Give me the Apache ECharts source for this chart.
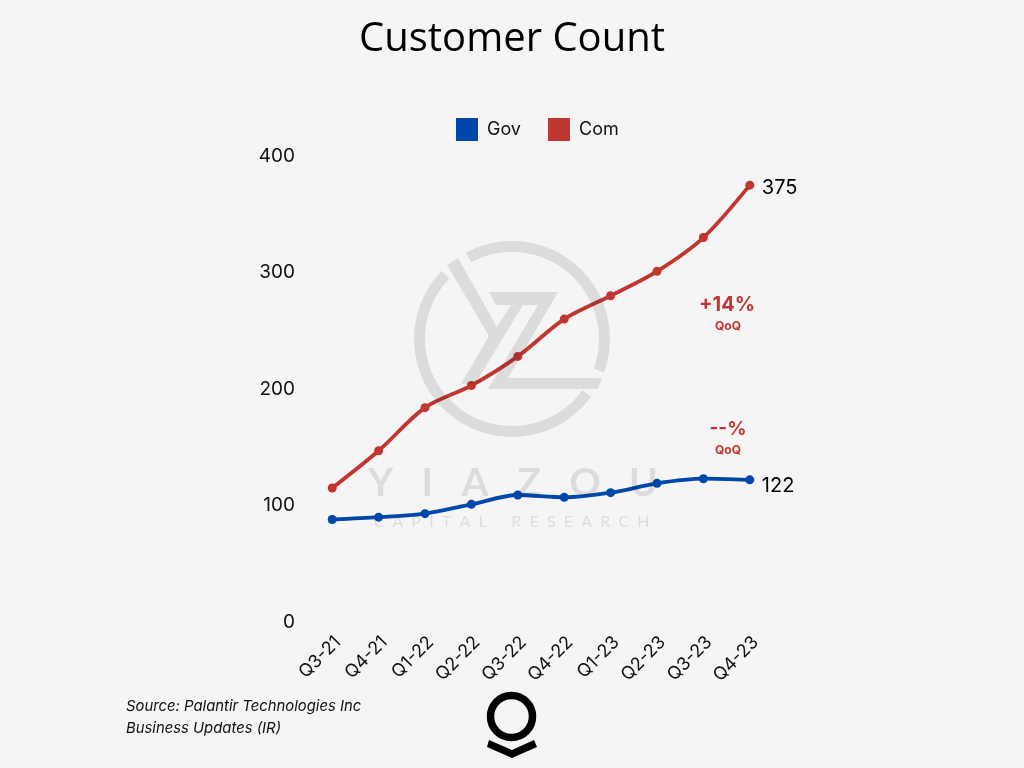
<!DOCTYPE html>
<html>
<head>
<meta charset="utf-8">
<style>html,body{margin:0;padding:0;background:#f5f5f5}#c{width:1024px;height:768px}</style>
<script src="https://cdn.jsdelivr.net/npm/echarts@6/dist/echarts.min.js"></script>
</head>
<body>
<div id="c"></div>
<script>
const categories = ['Q3-21','Q4-21','Q1-22','Q2-22','Q3-22','Q4-22','Q1-23','Q2-23','Q3-23','Q4-23'];
const gov = [88, 90, 93, 101, 109, 107, 111, 119, 123, 122];
const com = [115, 147, 184, 203, 228, 260, 280, 301, 330, 375];
const yTicks = [0, 100, 200, 300, 400];
const RED = '#c13631', BLUE = '#0047ab', WM = 'rgba(0,0,0,0.1)', FONT = 'Inter';

function poly(points, fill) { return {type:'polygon', z:50, silent:true, shape:{points}, style:{fill}}; }
function arc(a0, a1) {
  return {type:'arc', z:50, silent:true,
    shape:{cx:512, cy:339, r:92.5, startAngle:a0*Math.PI/180, endAngle:a1*Math.PI/180, clockwise:true},
    style:{stroke:WM, fill:'none', lineWidth:11}};
}
function text(x, y, s, size, weight, fill, extra) {
  return {type:'text', z:60, silent:true, x, y,
    style:Object.assign({text:s, font:`${weight} ${size}px ${FONT}`, fill, align:'center', verticalAlign:'middle'}, extra||{})};
}
const chart = echarts.init(document.getElementById('c'), null, {renderer:'canvas'});
const seriesBase = (name, data, color, labelOffset) => ({
  name, type:'line', data, smooth:0.3, symbol:'circle', symbolSize:9,
  lineStyle:{color, width:3.8}, itemStyle:{color},
  endLabel:{show:true, formatter:'{c}', distance:9, offset:labelOffset, color:'#000', fontFamily:FONT, fontSize:20}
});
chart.setOption({
  animation:false,
  backgroundColor:'#f5f5f5',
  title:{text:'Customer Count', left:'center', top:15, padding:[5,5,5,5], textStyle:{fontFamily:'Open Sans', fontSize:40, fontWeight:400, color:'#000'}},
  legend:{left:456, top:118, padding:0, itemWidth:22, itemHeight:23, itemGap:27, icon:'rect',
    textStyle:{fontFamily:FONT, fontSize:18, color:'#111', padding:[3,0,0,4]},
    data:['Gov','Com']},
  grid:{left:309, right:251, top:156, bottom:146, containLabel:false},
  xAxis:{type:'category', data:categories, boundaryGap:true,
    axisLine:{show:false}, axisTick:{show:false},
    axisLabel:{rotate:45, interval:0, margin:23, padding:[0,-8,0,0], fontFamily:FONT, fontSize:18, color:'#111'}},
  yAxis:{type:'value', min:yTicks[0], max:yTicks[yTicks.length-1], interval:100,
    axisLine:{show:false}, axisTick:{show:false}, splitLine:{show:false},
    axisLabel:{margin:14, padding:[1,0,0,0], fontFamily:FONT, fontSize:19, color:'#111'}},
  series:[seriesBase('Gov', gov, BLUE, [3,6]), seriesBase('Com', com, RED, [3,3])],
  graphic:[
    arc(-118, 20), arc(36, 224),
    poly([[447,265],[458,258],[497,327],[511,305],[523,305],[475,384],[461,384],[489,336]], WM),
    poly([[489,292],[558,292],[508,378],[602,378],[598,389],[488,389],[538,305],[496,305]], WM),
    {type:'text', z:50, silent:true, x:513, y:483, style:{text:'Y   I   A   Z   O   U', font:'700 39px Lato', fill:WM, align:'center', verticalAlign:'middle'}},
    {type:'text', z:50, silent:true, x:511.5, y:521.5, style:{text:'C  A  P  I  T  A  L      R  E  S  E  A  R  C  H', font:'400 16px Lato', fill:WM, align:'center', verticalAlign:'middle'}},
    text(727, 305, '+14%', 20, 700, RED),
    text(728, 326, 'QoQ', 12, 700, RED),
    text(728, 429, '--%', 19, 700, RED),
    text(728, 450, 'QoQ', 12, 700, RED),
    text(126, 707, 'Source: Palantir Technologies Inc', 15, 'italic 400', '#111', {align:'left', font:'italic 400 14.85px Inter'}),
    text(126, 729, 'Business Updates (IR)', 15, 'italic 400', '#111', {align:'left', font:'italic 400 14.85px Inter'}),
    {type:'circle', z:60, silent:true, shape:{cx:511.5, cy:716.5, r:21}, style:{fill:'none', stroke:'#000', lineWidth:7.5}},
    poly([[489,740],[512,750],[534,740],[537,747],[512,758],[487,747]], '#000')
  ]
});
</script>
</body>
</html>
